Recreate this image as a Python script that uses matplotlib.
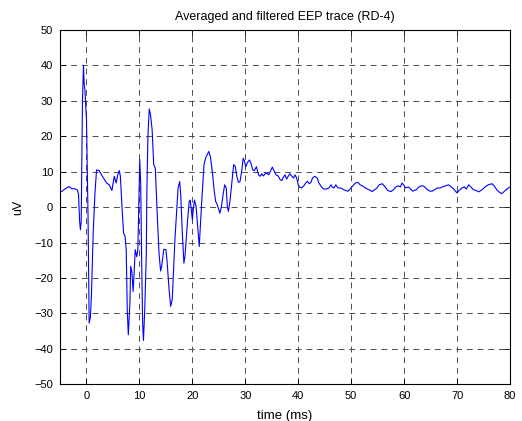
import numpy as np
import matplotlib.pyplot as plt

# EEP trace: time (ms) and amplitude (uV)
t_ms = [-5.0, -4.5, -4.0, -3.3, -2.8, -2.2, -1.7, -1.5, -1.3, -1.15, -1.0,
        -0.76, -0.57, -0.45, -0.3, 0.0, 0.3, 0.5, 0.75, 0.95, 1.27, 1.6, 1.9,
        2.4, 3.0, 3.8, 4.3, 4.8, 5.25, 5.6, 5.9, 6.2, 6.4, 6.7, 7.0, 7.3, 7.5,
        7.7, 7.9, 8.2, 8.35, 8.6, 8.8, 9.0, 9.2, 9.5, 9.7, 9.9, 10.06, 10.25,
        10.4, 10.6, 10.76, 11.0, 11.3, 11.4, 11.6, 11.85, 12.1, 12.4, 12.7,
        13.0, 13.35, 13.7, 14.0, 14.2, 14.6, 15.0, 15.2, 15.6, 15.9, 16.2,
        16.5, 16.7, 17.0, 17.3, 17.6, 17.8, 18.1, 18.4, 18.6, 18.9, 19.1,
        19.4, 19.6, 19.8, 20.0, 20.2, 20.4, 20.7, 21.0, 21.3, 21.5, 21.9,
        22.2, 22.5, 22.8, 23.1, 23.4, 23.8, 24.1, 24.4, 24.7, 25.0, 25.2,
        25.5, 25.8, 26.1, 26.4, 26.6, 26.8, 27.1, 27.5, 27.8, 28.1, 28.4,
        28.7, 29.0, 29.3, 29.6, 29.8, 30.1, 30.4, 30.8, 31.1, 31.4, 31.7,
        32.1, 32.5, 32.8, 33.1, 33.4, 33.75, 34.1, 34.4, 34.7, 35.1, 35.5,
        35.8, 36.2, 36.6, 36.9, 37.2, 37.5, 37.8, 38.1, 38.4, 38.75, 39.1,
        39.4, 39.7, 40.0, 40.3, 40.6, 41.05, 41.4, 41.75, 42.1, 42.4, 42.7,
        43.1, 43.6, 43.9, 44.4, 44.8, 45.3, 45.8, 46.2, 46.4, 46.75, 47.1,
        47.5, 48.0, 48.4, 48.9, 49.4, 49.8, 50.3, 50.8, 51.25, 51.7, 52.2,
        52.7, 53.1, 53.6, 54.0, 54.4, 54.8, 55.3, 55.9, 56.4, 56.9, 57.5,
        58.0, 58.4, 58.9, 59.3, 59.6, 59.9, 60.3, 60.8, 61.25, 61.6, 61.9,
        62.3, 62.8, 63.25, 63.6, 63.9, 64.4, 64.9, 65.3, 65.75, 66.25, 66.75,
        67.2, 67.8, 68.4, 68.9, 69.4, 69.7, 70.0, 70.4, 70.9, 71.4, 71.75,
        72.2, 72.6, 73.1, 73.6, 74.1, 74.7, 75.3, 75.9, 76.6, 77.0, 77.5,
        78.0, 78.4, 78.75, 79.4, 80.0]
uV = [4.2, 4.6, 5.2, 5.8, 5.2, 5.2, 4.8, 3.5, -4.0, -6.4, -4.0,
      30.0, 40.0, 35.0, 33.0, 24.6, -3.6, -32.7, -30.9, -24.0, -7.0, 4.0, 10.5,
      10.3, 8.7, 6.8, 6.3, 4.7, 8.7, 6.8, 9.1, 10.3, 8.7, 0.2, -7.3, -8.3, -12.0,
      -29.0, -36.0, -27.0, -16.7, -18.6, -23.8, -18.6, -12.0, -14.0, -12.0, 2.0, 13.4, 5.8,
      -13.0, -32.7, -37.6, -29.0, -13.0, 4.0, 20.0, 27.7, 26.0, 21.8, 12.0,
      11.0, -1.7, -13.0, -18.0, -16.7, -11.9, -12.0, -14.9, -23.3, -28.0, -26.0,
      -15.8, -9.2, -1.7, 5.4, 7.2, 3.5, -7.3, -15.8, -13.9, -7.8, -3.6,
      1.6, 2.0, -0.75, -3.6, -0.3, 2.0, 0.2, -5.5, -11.1, -5.5, 4.9,
      12.0, 13.8, 14.8, 15.7, 14.3, 9.6, 4.9, 1.6, 0.7, -0.75, -1.7,
      0.2, 3.5, 6.3, 5.4, 0.2, -1.2, 1.6, 7.7, 12.0, 11.5, 8.7,
      7.0, 7.2, 10.0, 13.8, 13.1, 11.4, 12.6, 13.3, 12.2, 10.5, 10.3,
      11.4, 9.1, 8.7, 9.4, 8.8, 9.4, 9.6, 9.1, 10.0, 11.3, 10.0,
      9.1, 8.8, 7.7, 7.5, 8.5, 9.1, 7.9, 8.7, 9.4, 8.8, 8.2,
      9.1, 8.2, 6.3, 5.6, 5.4, 6.0, 6.8, 7.3, 6.6, 7.0, 8.2,
      8.7, 8.2, 6.8, 5.7, 5.1, 5.1, 5.4, 6.3, 5.7, 5.4, 6.3,
      5.4, 5.4, 5.1, 4.7, 4.5, 5.1, 6.0, 6.8, 7.0, 6.3, 5.9,
      5.4, 5.1, 4.7, 4.4, 4.9, 5.3, 6.3, 6.6, 5.7, 4.7, 4.4,
      4.9, 5.7, 6.0, 5.7, 6.8, 6.3, 5.4, 5.7, 5.1, 4.5, 4.7,
      4.9, 5.7, 6.0, 6.0, 5.7, 4.9, 4.5, 4.5, 4.9, 5.4, 5.4,
      5.7, 6.0, 6.3, 5.7, 5.1, 4.5, 4.0, 4.7, 5.4, 5.7, 5.1,
      6.3, 5.7, 4.9, 4.7, 4.3, 4.9, 5.7, 6.3, 6.6, 6.0, 4.9,
      4.2, 3.8, 4.2, 5.1, 5.7]

xticks = np.arange(0, 81, 10)
yticks = np.arange(-50, 51, 10)

plt.rcParams['font.family'] = ['Liberation Sans', 'DejaVu Sans']
plt.rcParams['font.size'] = 8

fig = plt.figure(figsize=(5.22, 4.21), dpi=100)
ax = fig.add_axes([0.115, 0.087, 0.862, 0.842])
ax.plot(t_ms, uV, color='#0000ff', linewidth=0.8)

ax.set_xlim(-5, 80)
ax.set_ylim(-50, 50)
ax.set_xticks(xticks)
ax.set_yticks(yticks)
ax.grid(True, color='0.3', linestyle=(0, (6, 5)), linewidth=0.7)
ax.tick_params(direction='in', length=4, width=0.6, top=True, right=True, pad=5)
for s in ax.spines.values():
    s.set_linewidth(0.8)

ax.set_title('Averaged and filtered EEP trace (RD-4)', fontsize=9, pad=7)
ax.set_xlabel('time (ms)', fontsize=9.5, labelpad=6)
ax.set_ylabel('uV', fontsize=9, labelpad=7)

plt.savefig('out.png', dpi=100)
